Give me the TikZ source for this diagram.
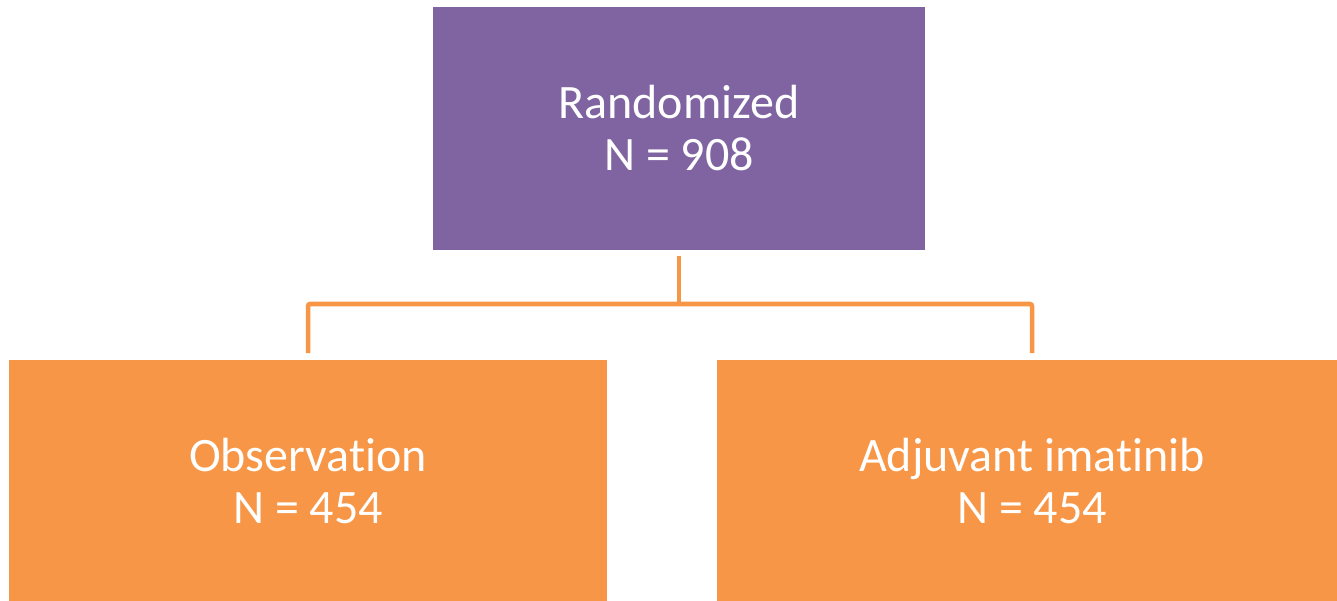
\documentclass[tikz,border=0pt]{standalone}
\usepackage{fontspec}
\setmainfont{Carlito}[Ligatures={NoCommon}]
\definecolor{boxpurple}{HTML}{8064A2}
\definecolor{boxorange}{HTML}{F79646}
\begin{document}
\begin{tikzpicture}[x=1pt,y=1pt,
  box/.style={draw=none, rectangle, inner sep=0pt, text=white, align=center,
    font=\fontsize{48}{52}\selectfont},
  conn/.style={draw=boxorange, line width=4.5pt, rounded corners=2pt}]
\useasboundingbox (0,0) rectangle (1337,-601);
\node[box, fill=boxpurple, minimum width=492pt, minimum height=243pt] (top) at (679,-128.5) {Randomized\\N = 908};
\node[box, fill=boxorange, minimum width=598pt, minimum height=241pt] (obs) at (308,-480.5) {Observation\\N = 454};
\node[box, fill=boxorange, minimum width=620pt, minimum height=241pt] (adj) at (1027,-480.5) {\hspace*{10pt}Adjuvant imatinib\\\hspace*{10pt}N = 454};
\coordinate (ts) at (679,-256);
\coordinate (tm) at (679,-304);
\coordinate (lb) at (308,-353);
\coordinate (rb) at (1032,-353);
\draw[conn] (ts) -- (tm);
\draw[conn] (lb) |- (tm) -| (rb);
\end{tikzpicture}
\end{document}
